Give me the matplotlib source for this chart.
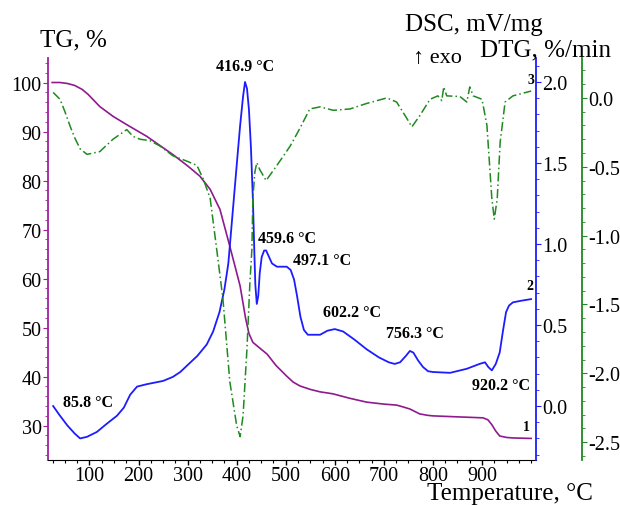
import matplotlib
matplotlib.use("Agg")
import matplotlib.pyplot as plt
from matplotlib.ticker import MultipleLocator, FixedLocator

# Cores aproximadas do original
COLOR_TG = "#8e1a8e"
COLOR_TG_SPINE = "#a020a0"
COLOR_DSC = "#1c1cff"
COLOR_DTG = "#1f8a1f"
FONT = ["Liberation Serif", "DejaVu Serif"]

# TG, %
tg_temp = [24, 40, 55, 70, 85, 97, 121, 148, 176, 200, 217, 240, 270, 300, 325, 346,
           366, 386, 407, 418, 425, 433, 445, 462, 480, 502, 515, 529, 550, 570, 596,
           630, 665, 700, 726, 740, 753, 773, 790, 800, 850, 902, 912, 920, 928, 936,
           950, 963, 1000]
tg_val = [100, 100, 99.8, 99.4, 98.6, 97.6, 95.1, 93.1, 91.4, 90.0, 89.0, 87.4, 85.3,
          83.0, 80.9, 78.2, 74.1, 66.6, 58.5, 52.0, 48.8, 47.0, 46.0, 44.6, 42.3, 40.1,
          38.9, 38.1, 37.4, 36.9, 36.5, 35.6, 34.8, 34.4, 34.2, 33.8, 33.4, 32.4, 32.1,
          32.0, 31.8, 31.6, 31.2, 30.2, 28.9, 27.9, 27.6, 27.5, 27.4]

# DSC, mV/mg
dsc_temp = [26, 40, 55, 70, 81, 95, 115, 135, 156, 170, 183, 197, 217, 250, 270, 285,
            299, 320, 339, 352, 365, 375, 383, 392, 401, 407, 413, 417, 421, 425, 429,
            433, 436, 438, 441, 444, 447, 451, 456, 460, 466, 472, 482, 502, 510, 517,
            523, 530, 537, 545, 570, 585, 600, 617, 640, 665, 690, 710, 722, 733, 745,
            753, 760, 770, 780, 790, 800, 835, 869, 895, 906, 913, 920, 928, 936, 943,
            949, 955, 963, 980, 1000]
dsc_val = [0.0, -0.06, -0.12, -0.17, -0.20, -0.19, -0.16, -0.11, -0.06, -0.01, 0.07,
           0.12, 0.135, 0.155, 0.18, 0.21, 0.25, 0.31, 0.38, 0.46, 0.58, 0.72, 0.88, 1.20,
           1.52, 1.73, 1.91, 2.00, 1.96, 1.83, 1.60, 1.28, 0.95, 0.75, 0.63, 0.68, 0.82,
           0.92, 0.96, 0.96, 0.92, 0.88, 0.86, 0.86, 0.84, 0.78, 0.68, 0.55, 0.47, 0.44,
           0.44, 0.465, 0.475, 0.46, 0.41, 0.35, 0.30, 0.27, 0.26, 0.27, 0.31, 0.34, 0.33,
           0.28, 0.24, 0.215, 0.21, 0.205, 0.23, 0.26, 0.27, 0.24, 0.22, 0.26, 0.33, 0.47,
           0.58, 0.62, 0.64, 0.65, 0.66]

# DTG, %/min
dtg_temp = [26, 40, 50, 60, 70, 81, 95, 121, 148, 176, 189, 203, 223, 244, 270, 299,
            319, 332, 346, 360, 372, 386, 400, 407, 413, 421, 427, 431, 433, 437, 441,
            447, 460, 482, 509, 529, 549, 570, 597, 631, 665, 706, 726, 747, 757, 773,
            794, 810, 818, 822, 828, 855, 869, 875, 882, 900, 910, 920, 925, 931, 937,
            947, 963, 1000]
dtg_val = [0.04, -0.01, -0.10, -0.20, -0.29, -0.37, -0.41, -0.39, -0.30, -0.23, -0.28,
           -0.30, -0.31, -0.35, -0.42, -0.46, -0.49, -0.59, -0.73, -1.12, -1.46, -2.06,
           -2.38, -2.46, -2.31, -1.82, -1.34, -1.10, -0.73, -0.54, -0.47, -0.52, -0.60,
           -0.49, -0.35, -0.22, -0.08, -0.065, -0.09, -0.08, -0.04, 0.0, -0.03, -0.15,
           -0.21, -0.13, -0.01, 0.015, -0.02, 0.08, 0.015, 0.01, -0.03, 0.08, 0.015,
           -0.01, -0.20, -0.73, -0.88, -0.73, -0.32, -0.03, 0.015, 0.05]

# Picos marcados na curva DSC: (texto, temperatura, DSC)
peak_labels = ["416.9 °C", "459.6 °C", "497.1 °C", "602.2 °C", "756.3 °C", "920.2 °C", "85.8 °C"]
peak_temp = [417, 443, 515, 576, 704, 879, 46]
peak_dsc = [2.10, 1.04, 0.90, 0.58, 0.45, 0.13, 0.025]
peak_ha = ["center", "left", "left", "left", "left", "left", "left"]

# Numeros das curvas (1 = TG, 2 = DSC, 3 = DTG)
curve_nums = ["1", "2", "3"]
curve_num_px = [(523, 428), (526, 287), (528, 80)]

x_ticks = [100, 200, 300, 400, 500, 600, 700, 800, 900]

W, H = 620, 506
fig = plt.figure(figsize=(6.2, 5.06), dpi=100)
ax = fig.add_axes([48 / W, 1 - 461 / H, (536 - 48) / W, (461 - 59) / H])
ax2 = ax.twinx()
ax3 = ax.twinx()

ax.plot(tg_temp, tg_val, color=COLOR_TG, linewidth=1.2, zorder=3)
ax2.plot(dsc_temp, dsc_val, color=COLOR_DSC, linewidth=1.3)
ax3.plot(dtg_temp, dtg_val, color=COLOR_DTG, linewidth=1.1, linestyle=(0, (6, 2, 1, 2)))

ax.set_xlim(15.5, 1010)
ax.set_ylim(23, 105)
ax2.set_ylim(-0.333, 2.148)
ax3.set_ylim(-2.63, 0.29)

# Eixos e ticks
for a in (ax, ax2, ax3):
    a.spines["top"].set_visible(False)
ax.spines["right"].set_visible(False)
ax.spines["left"].set_color(COLOR_TG_SPINE)
ax.spines["left"].set_linewidth(1.3)
ax.spines["bottom"].set_color("black")
for a in (ax2, ax3):
    a.spines["left"].set_visible(False)
    a.spines["bottom"].set_visible(False)
ax2.spines["right"].set_color(COLOR_DSC)
ax2.spines["right"].set_linewidth(1.3)
ax3.spines["right"].set_position(("axes", (582 - 48) / (536 - 48)))
ax3.spines["right"].set_color(COLOR_DTG)
ax3.spines["right"].set_linewidth(1.3)

ax.xaxis.set_major_locator(FixedLocator(x_ticks))
ax.xaxis.set_minor_locator(MultipleLocator(25))
ax.yaxis.set_major_locator(MultipleLocator(10))
ax.yaxis.set_minor_locator(MultipleLocator(2))
ax2.yaxis.set_major_locator(MultipleLocator(0.5))
ax2.yaxis.set_minor_locator(MultipleLocator(0.1))
ax3.yaxis.set_major_locator(MultipleLocator(0.5))
ax3.yaxis.set_minor_locator(MultipleLocator(0.1))
ax2.yaxis.set_major_formatter(plt.FormatStrFormatter("%.1f"))
ax3.yaxis.set_major_formatter(plt.FormatStrFormatter("%.1f"))

ax.tick_params(axis="x", which="major", length=3.5, width=1, pad=1)
ax.tick_params(axis="x", which="minor", length=2.5, width=0.8)
ax.tick_params(axis="y", which="both", colors=COLOR_TG_SPINE, labelcolor="black", pad=1)
ax.tick_params(axis="y", which="major", length=3.5)
ax.tick_params(axis="y", which="minor", length=2.5)
for a, c in ((ax2, COLOR_DSC), (ax3, COLOR_DTG)):
    a.tick_params(axis="y", which="both", colors=c, labelcolor="black", pad=1)
    a.tick_params(axis="y", which="major", length=3.5)
    a.tick_params(axis="y", which="minor", length=2.5)

for a in (ax, ax2, ax3):
    for lab in a.get_xticklabels() + a.get_yticklabels():
        lab.set_fontfamily(FONT)
        lab.set_fontsize(14.5)

# Rotulos dos picos
for text, t, v, ha in zip(peak_labels, peak_temp, peak_dsc, peak_ha):
    ax2.text(t, v, text, ha=ha, va="center", fontsize=11.5, fontweight="bold",
             family=FONT)

for num, (px, py) in zip(curve_nums, curve_num_px):
    fig.text(px / W, 1 - py / H, num, fontsize=10, fontweight="bold", family=FONT,
             va="center")

# Titulos dos eixos
fig.text(40 / W, 1 - 40 / H, "TG, %", fontsize=18, family=FONT, va="center")
fig.text(405 / W, 1 - 25 / H, "DSC, mV/mg", fontsize=18, family=FONT, va="center")
fig.text(413 / W, 1 - 58 / H, "↑ exo", fontsize=16, family=FONT, va="center")
fig.text(480 / W, 1 - 50 / H, "DTG, %/min", fontsize=18, family=FONT, va="center")
fig.text(427 / W, 1 - 494 / H, "Temperature, °C", fontsize=18, family=FONT, va="center")

fig.savefig("out.png", dpi=100)
